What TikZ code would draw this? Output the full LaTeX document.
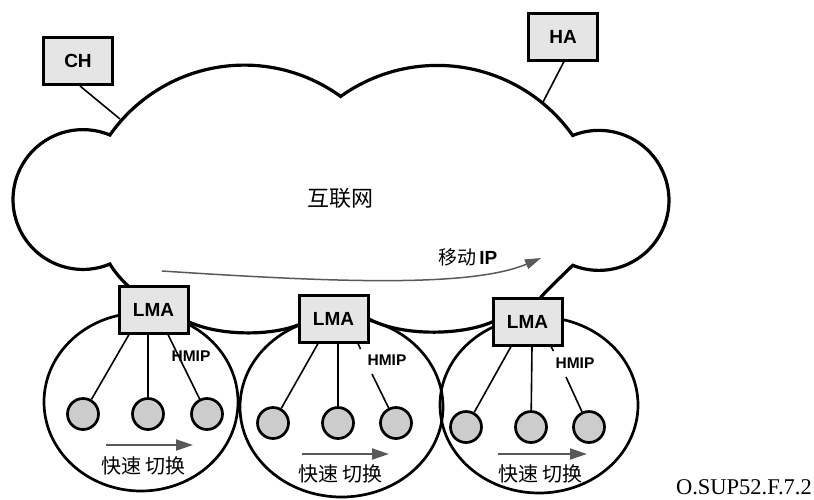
\documentclass[tikz,border=0pt]{standalone}
\usepackage{fontspec}
\setmainfont{Liberation Serif}
\newfontfamily\labfont{Liberation Sans}
\newfontfamily\cjk{Noto Sans CJK SC}
\usetikzlibrary{arrows.meta}
\begin{document}
\begin{tikzpicture}[x=1pt,y=-1pt,
  box/.style={draw, line width=3pt, fill=black!10, minimum width=69pt, minimum height=47pt, inner sep=0pt, font={\labfont\bfseries\fontsize{19}{19}\selectfont}},
  mn/.style={circle, draw, line width=2.7pt, fill=black!20, minimum size=31pt, inner sep=0pt},
  cell/.style={line width=2.7pt},
  link/.style={line width=1.6pt},
  hmip/.style={font={\labfont\bfseries\fontsize{15.5}{15.5}\selectfont}, inner sep=0pt},
  fast/.style={line width=2pt, draw=black!65, -{Triangle[length=17pt,width=11pt,fill=black!65]}},
  zh/.style={font={\cjk\fontsize{20}{20}\selectfont}, inner sep=0pt},
]
\useasboundingbox (0,0) rectangle (814,499);

% cloud
\draw[line width=3.2pt] (109.9,264)
  arc[start angle=67.3,end angle=292.7,radius=69.9]
  arc[start angle=-145,end angle=-54,radius=164]
  arc[start angle=-125.6,end angle=-35.3,radius=166]
  arc[start angle=-112,end angle=112,radius=70]
  .. controls (562,276) and (550,287) .. (541,297) -- (527,321) -- (492,322)
  .. controls (460,336) and (400,336) .. (369,319) -- (333,318) -- (298,325)
  .. controls (270,336) and (220,336) .. (189,322) -- (153,309) -- (127,285)
  .. controls (120,278) and (114,271) .. (109.9,264) -- cycle;

% cells
\draw[cell] (141,402) ellipse [x radius=97, y radius=89];
\draw[cell] (341.5,407) ellipse [x radius=101.5, y radius=90];
\draw[cell] (539,405) ellipse [x radius=99, y radius=88];

% boxes
\node[box] (ch) at (78,61) {CH};
\node[box] (ha) at (563,36.5) {HA};
\node[box] (lma1) at (153.5,309.5) {LMA};
\node[box] (lma2) at (333.5,318.5) {LMA};
\node[box] (lma3) at (527.5,321.5) {LMA};

\coordinate (chend) at (120,119);
\coordinate (haend) at (543,102);
\draw[link] ([xshift=2pt]ch.south) -- (chend);
\draw[link] ([xshift=1pt]ha.south) -- (haend);

% mobile nodes
\node[mn] (n11) at (83,414) {};
\node[mn] (n12) at (148,414) {};
\node[mn] (n13) at (207,414) {};
\node[mn] (n21) at (273,423) {};
\node[mn] (n22) at (338,423) {};
\node[mn] (n23) at (396,423) {};
\node[mn] (n31) at (466,427) {};
\node[mn] (n32) at (531,427) {};
\node[mn] (n33) at (589,427) {};

\draw[link] ([xshift=-24.5pt]lma1.south) -- (n11);
\draw[link] ([xshift=-5.5pt]lma1.south) -- (n12);
\draw[link] ([xshift=14.5pt]lma1.south) -- (n13);
\draw[link] ([xshift=-15.5pt]lma2.south) -- (n21);
\draw[link] ([xshift=4.5pt]lma2.south) -- (n22);
\coordinate (s2) at (360.5,349);
\coordinate (h2) at (372,374);
\draw[link] ([xshift=24.5pt]lma2.south) -- (s2);
\draw[link] (h2) -- (n23);
\draw[link] ([xshift=-16.5pt]lma3.south) -- (n31);
\draw[link] ([xshift=4.5pt]lma3.south) -- (n32);
\coordinate (s3) at (553.5,351);
\coordinate (h3) at (566,377);
\draw[link] ([xshift=23.5pt]lma3.south) -- (s3);
\draw[link] (h3) -- (n33);

\node[hmip] (hm1) at (191,356) {HMIP};
\node[hmip] (hm2) at (387,360.5) {HMIP};
\node[hmip] (hm3) at (575,363) {HMIP};

% fast handover
\coordinate (f1a) at (106,445); \coordinate (f1b) at (193,445);
\coordinate (f2a) at (302,454); \coordinate (f2b) at (389,454);
\coordinate (f3a) at (498,454); \coordinate (f3b) at (587,454);
\draw[fast] (f1a) -- (f1b);
\draw[fast] (f2a) -- (f2b);
\draw[fast] (f3a) -- (f3b);
\node[zh] (t1) at (143,466) {快速\hspace{4pt}切换};
\node[zh] (t2) at (340,474) {快速\hspace{4pt}切换};
\node[zh] (t3) at (540,474) {快速\hspace{4pt}切换};

% internet
\node[zh, font={\cjk\fontsize{22}{22}\selectfont}] (inet) at (340,198) {互联网};

% mobile IP
\coordinate (mipA) at (162,271);
\coordinate (mipB) at (541,258);
\draw[line width=1.5pt, draw=black!65, -{Triangle[length=16pt,width=10pt,fill=black!65]}] (mipA) .. controls (330,282) and (470,288) .. (mipB);
\node[inner sep=0pt] (mip) at (468,257) {{\cjk\fontsize{19}{19}\selectfont 移动} {\labfont\bfseries\fontsize{19}{19}\selectfont IP}};

\node[anchor=base east, inner sep=0pt, font={\fontsize{22.5}{22.5}\selectfont}] (fig) at (812,494.5) {O.SUP52.F.7.2};
\end{tikzpicture}
\end{document}
